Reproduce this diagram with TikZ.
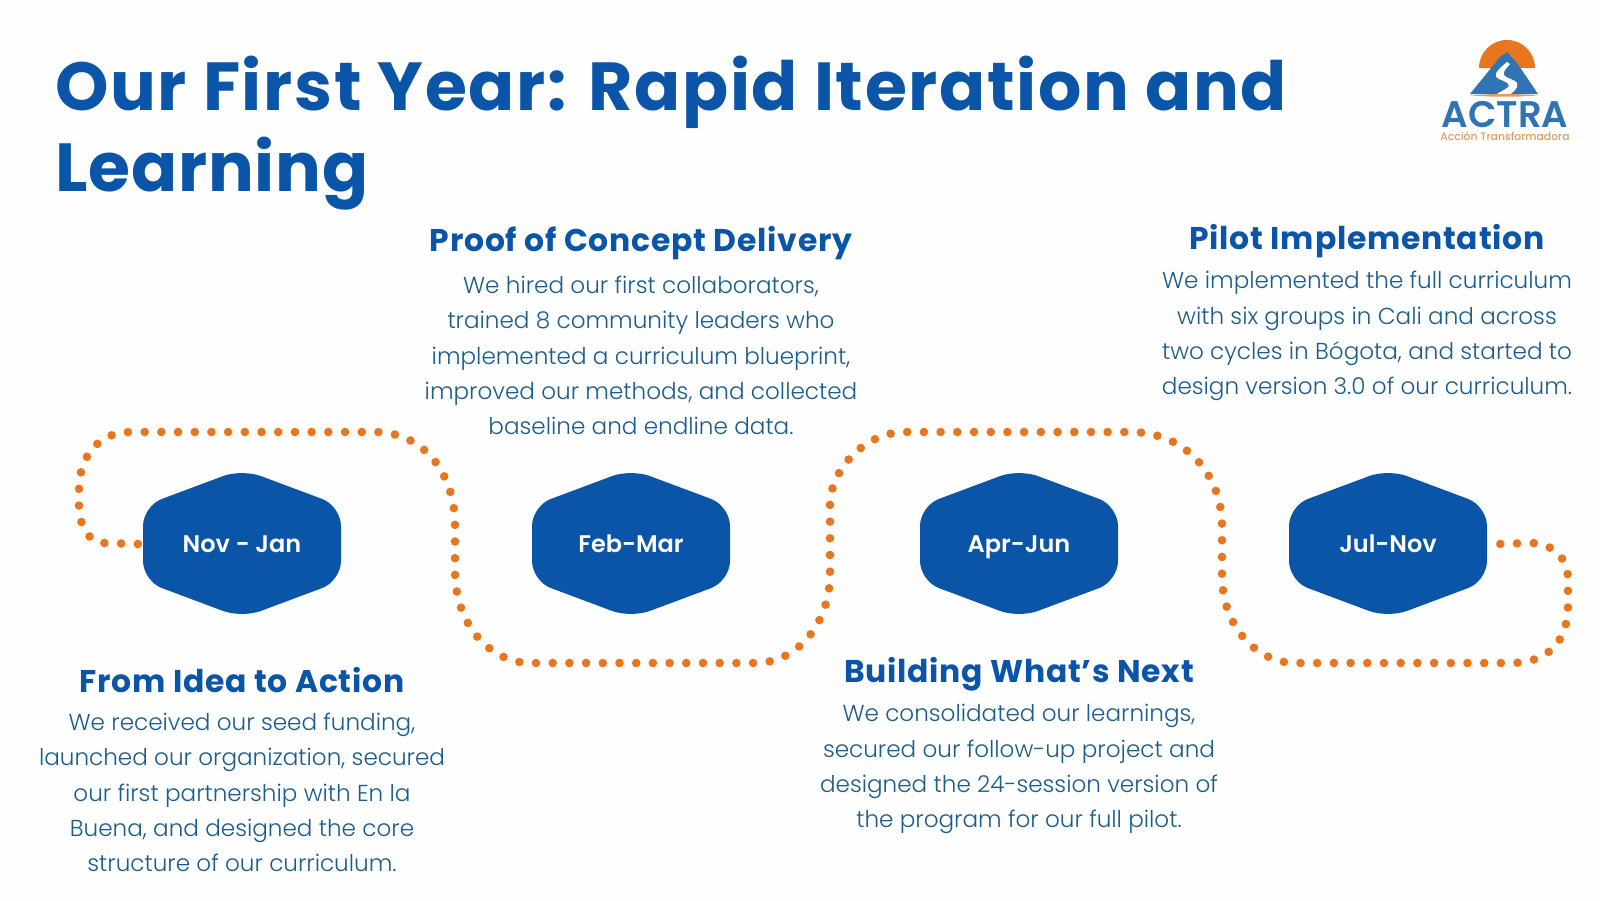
\documentclass[tikz,border=0pt]{standalone}
\usepackage{fontspec}
\setmainfont{Poppins}
\newfontfamily\bodyf{Poppins}[UprightFont=* Light]
\newfontfamily\headf{Poppins}[UprightFont=* SemiBold]
\newfontfamily\subf{Poppins}[UprightFont=* Medium]
\newfontfamily\headbf{Poppins}[UprightFont=* Bold,LetterSpace=2.5]
\newfontfamily\titlef{Poppins}[UprightFont=* Bold,LetterSpace=2.5]
\newfontfamily\titlebf{Poppins}[UprightFont=* Bold,LetterSpace=1.2]
\definecolor{tblue}{HTML}{0B55A8}
\definecolor{bodyc}{HTML}{1B5C8F}
\definecolor{dotc}{HTML}{E8761E}
\definecolor{logoblue}{HTML}{2F74B5}
\definecolor{logotan}{HTML}{E39A5C}
\tikzset{
 hexlabel/.style={minimum width=198pt,minimum height=150pt,inner sep=0pt,text=white,text height=20pt,text depth=3pt,font=\headf\fontsize{24}{28}\selectfont},
 hexfill/.style={fill=tblue,rounded corners=20pt},
 dotline/.style={draw=dotc,line width=8.6pt,line cap=round,dash pattern=on 0pt off 16.70pt},
 headtext/.style={text=tblue,font=\headbf\fontsize{31.4}{36}\selectfont},
 bodytext/.style={text=bodyc,align=center,font=\bodyf\fontsize{23.1}{35.2}\selectfont},
}
\newcommand{\hexa}[3]{%
 \fill[hexfill] (#2-99,506)--(#2,469)--(#2+99,506)--(#2+99,581)--(#2,618)--(#2-99,581)--cycle;
 \node[hexlabel] (#1) at (#2,544) {#3};}
\begin{document}
\begin{tikzpicture}[x=1pt,y=-1pt]
\useasboundingbox (0,0) rectangle (1600,900);
\fill[white!99.5!black] (0,0) rectangle (1600,900);
\node[anchor=base west,inner sep=0pt,text=tblue,font=\titlef\fontsize{68}{81}\selectfont] (title1) at (55,110) {Our First Year: Rapid Iteration and};
\node[anchor=base west,inner sep=0pt,text=tblue,font=\titlebf\fontsize{68}{81}\selectfont] (title2) at (55,191) {Learning};
% logo
\fill[dotc] (1479,68) arc[start angle=180,end angle=0,radius=28pt] -- cycle;
\fill[logoblue] (1470,94) -- (1500,57) -- (1507,52) -- (1517,63) -- (1538,94) -- cycle;
\fill[white] (1507,62) .. controls (1497,70) and (1492,76) .. (1499,79) .. controls (1506,82) and (1512,84) .. (1507,88) .. controls (1504,90) and (1500,92) .. (1496,94.5) -- (1510,94.5) .. controls (1513,92) and (1519,88) .. (1517,83) .. controls (1514,78) and (1499,78) .. (1505,70) -- (1510,64) -- cycle;
\fill[logotan] (1470,95.5) .. controls (1490,93.5) and (1520,93.5) .. (1538,95.5) -- (1520,96.5) -- (1490,96.5) -- cycle;
\node[anchor=base,inner sep=0pt,text=logoblue,font=\headf\fontsize{37}{38}\selectfont] (logo) at (1505,127.5) {ACTRA};
\node[anchor=base,inner sep=0pt,text=logotan,font=\subf\fontsize{10.8}{12}\selectfont] (logosub) at (1505,140.5) {Acción Transformadora};
% hexagons
\hexa{n1}{242}{Nov - Jan}
\hexa{n2}{631}{Feb-Mar}
\hexa{n3}{1019}{Apr-Jun}
\hexa{n4}{1388}{Jul-Nov}
% dotted connector
\draw[dotline] ([xshift=-5pt]n1.west) -- (105,543)
  .. controls (88,543) and (79,525) .. (79,505)
  -- (79,490) .. controls (79,455) and (100,432) .. (130,432)
  -- (375,432) .. controls (425,432) and (455,475) .. (455,525)
  -- (455,570) .. controls (455,630) and (495,663) .. (530,663)
  -- (755,663) .. controls (800,663) and (830,620) .. (830,575)
  -- (830,505) .. controls (830,470) and (865,432) .. (905,432)
  -- (1130,432) .. controls (1190,432) and (1222,480) .. (1222,525)
  -- (1222,575) .. controls (1222,630) and (1260,663) .. (1295,663)
  -- (1510,663) .. controls (1550,663) and (1568,640) .. (1568,605)
  -- (1568,580) .. controls (1568,555) and (1550,543) .. (1530,543)
  -- ([xshift=10pt]n4.east);
% texts
\node[headtext] (h1) at (242,680) {From Idea to Action};
\node[bodytext] (b1) at (242,792.5) {We received our seed funding,\\launched our organization, secured\\our first partnership with En la\\Buena, and designed the core\\structure of our curriculum.};
\node[headtext] (h2) at (641,243) {Proof of Concept Delivery};
\node[bodytext] (b2) at (641,355.5) {We hired our first collaborators,\\trained 8 community leaders who\\implemented a curriculum blueprint,\\improved our methods, and collected\\baseline and endline data.};
\node[headtext] (h3) at (1019,674) {Building What’s Next};
\node[bodytext] (b3) at (1019,769) {We consolidated our learnings,\\secured our follow-up project and\\designed the 24-session version of\\the program for our full pilot.};
\node[headtext] (h4) at (1367,241) {Pilot Implementation};
\node[bodytext] (b4) at (1367,336) {We implemented the full curriculum\\with six groups in Cali and across\\two cycles in Bógota, and started to\\design version 3.0 of our curriculum.};
\end{tikzpicture}
\end{document}
